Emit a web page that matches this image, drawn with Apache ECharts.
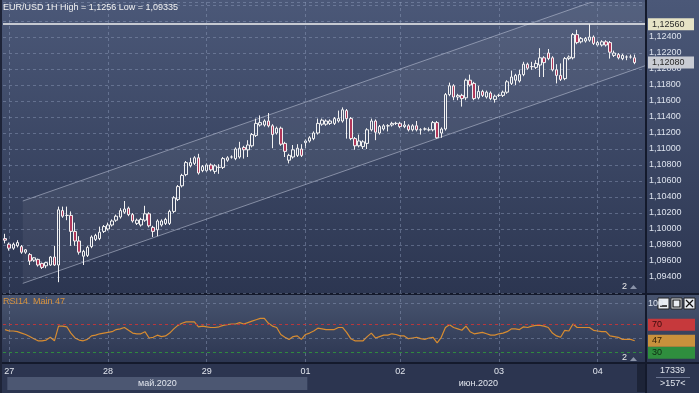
<!DOCTYPE html>
<html><head><meta charset="utf-8">
<script src="https://cdn.jsdelivr.net/npm/echarts/dist/echarts.min.js"></script>
<style>
html,body{margin:0;padding:0;background:#2a3350;overflow:hidden;}
.b{position:absolute;}
#chart{position:absolute;left:0;top:0;width:699px;height:393px;}
</style></head><body>
<div class="b" style="left:0;top:0;width:699px;height:293px;background:linear-gradient(#4b5878,#2c3651)"></div>
<div class="b" style="left:0;top:293px;width:699px;height:2px;background:#141a2c"></div>
<div class="b" style="left:0;top:295px;width:699px;height:67px;background:linear-gradient(#48546f,#2c3651)"></div>
<div class="b" style="left:0;top:362px;width:699px;height:2px;background:#141a2c"></div>
<div class="b" style="left:0;top:364px;width:699px;height:29px;background:#2c3550"></div>
<div class="b" style="left:645px;top:0;width:2px;height:393px;background:#141a2c"></div>
<div class="b" style="left:0;top:0;width:2px;height:393px;background:#1e2438"></div>
<div id="chart"></div>
<script>
// ---- data ----
const opens = [
1.0988,1.0981,1.0976,1.0979,1.0978,1.0971,1.0968,1.0961,1.0962,1.0957,
1.0954,1.0955,1.0965,1.0955,1.1023,1.1017,1.1017,1.0997,1.0985,1.0966,
1.0967,1.0978,1.0987,1.0988,1.0997,1.1000,1.1005,1.1011,1.1015,1.1021,
1.1026,1.1018,1.1007,1.1005,1.1011,1.1019,1.1002,1.0999,1.1005,1.1007,
1.1007,1.1022,1.1037,1.1054,1.1068,1.1079,1.1082,1.1089,1.1073,1.1073,
1.1080,1.1072,1.1077,1.1077,1.1086,1.1090,1.1088,1.1090,1.1102,1.1099,
1.1104,1.1117,1.1130,1.1130,1.1135,1.1129,1.1120,1.1126,1.1107,1.1086,
1.1090,1.1092,1.1100,1.1108,1.1110,1.1113,1.1120,1.1131,1.1131,1.1132,
1.1132,1.1135,1.1135,1.1148,1.1138,1.1113,1.1104,1.1103,1.1107,1.1124,
1.1135,1.1120,1.1125,1.1129,1.1130,1.1132,1.1132,1.1128,1.1129,1.1124,
1.1129,1.1124,1.1125,1.1124,1.1124,1.1133,1.1120,1.1125,1.1168,1.1179,
1.1165,1.1167,1.1164,1.1186,1.1182,1.1164,1.1172,1.1165,1.1170,1.1162,
1.1167,1.1167,1.1171,1.1182,1.1186,1.1185,1.1193,1.1206,1.1203,1.1202,
1.1205,1.1214,1.1220,1.1214,1.1199,1.1192,1.1188,1.1213,1.1214,1.1243,
1.1234,1.1235,1.1236,1.1240,1.1230,1.1230,1.1234,1.1233,1.1217,1.1218,
1.1213,1.1215,1.1215,1.1214];
const closes = [
1.0986,1.0976,1.0981,1.0983,1.0971,1.0974,1.0960,1.0964,1.0955,1.0952,
1.0958,1.0965,1.0955,1.1024,1.1016,1.1017,1.0997,1.0985,1.0971,1.0972,
1.0977,1.0990,1.0992,1.0996,1.1003,1.1005,1.1010,1.1016,1.1023,1.1025,
1.1018,1.1010,1.1011,1.1012,1.1019,1.1004,1.0997,1.1010,1.1010,1.1012,
1.1022,1.1039,1.1053,1.1067,1.1083,1.1083,1.1089,1.1070,1.1078,1.1080,
1.1074,1.1079,1.1077,1.1088,1.1089,1.1090,1.1100,1.1101,1.1099,1.1105,
1.1118,1.1132,1.1133,1.1135,1.1129,1.1118,1.1126,1.1106,1.1097,1.1092,
1.1099,1.1101,1.1092,1.1110,1.1114,1.1120,1.1132,1.1136,1.1135,1.1135,
1.1138,1.1138,1.1149,1.1138,1.1113,1.1104,1.1110,1.1109,1.1124,1.1135,
1.1121,1.1128,1.1129,1.1129,1.1132,1.1132,1.1128,1.1130,1.1124,1.1129,
1.1124,1.1124,1.1125,1.1124,1.1133,1.1114,1.1125,1.1168,1.1179,1.1165,
1.1167,1.1163,1.1186,1.1180,1.1163,1.1172,1.1167,1.1171,1.1163,1.1166,
1.1167,1.1171,1.1184,1.1190,1.1192,1.1193,1.1206,1.1201,1.1203,1.1207,
1.1214,1.1208,1.1213,1.1199,1.1192,1.1187,1.1213,1.1215,1.1243,1.1233,
1.1238,1.1238,1.1240,1.1232,1.1233,1.1234,1.1230,1.1221,1.1220,1.1214,
1.1217,1.1215,1.1215,1.1208];
const lows = [
1.0982,1.0973,1.0974,1.0977,1.0969,1.0969,1.0955,1.0959,1.0953,1.0950,
1.0951,1.0954,1.0954,1.09335,1.1014,1.1011,1.0979,1.0979,1.0968,1.0955,
1.0965,1.0976,1.0985,1.0986,1.0995,1.0998,1.1003,1.1009,1.1013,1.1019,
1.1016,1.1008,1.1005,1.1003,1.1009,1.1002,1.0990,1.0991,1.1003,1.1005,
1.1005,1.1020,1.1035,1.1052,1.1066,1.1077,1.1080,1.1068,1.1071,1.1071,
1.1072,1.1069,1.1069,1.1075,1.1084,1.1088,1.1086,1.1088,1.1088,1.1090,
1.1102,1.1115,1.1128,1.1128,1.1127,1.1101,1.1118,1.1104,1.1090,1.1082,
1.1088,1.1090,1.1090,1.1101,1.1108,1.1111,1.1118,1.1129,1.1129,1.1130,
1.1130,1.1133,1.1133,1.1113,1.1111,1.1099,1.1102,1.1100,1.1100,1.1122,
1.1111,1.1118,1.1123,1.1122,1.1128,1.1130,1.1126,1.1126,1.1122,1.1122,
1.1122,1.1118,1.1123,1.1122,1.1122,1.1113,1.1114,1.1123,1.1166,1.1161,
1.1161,1.1153,1.1161,1.1178,1.1161,1.1162,1.1165,1.1163,1.1161,1.1158,
1.1165,1.1165,1.1169,1.1180,1.1180,1.1183,1.1191,1.1199,1.1199,1.1200,
1.1190,1.1190,1.1211,1.1197,1.1182,1.1185,1.1186,1.1211,1.1212,1.1231,
1.1232,1.1233,1.1234,1.1230,1.1228,1.1228,1.1228,1.1213,1.1215,1.1212,
1.1211,1.1211,1.1213,1.1206];
const highs = [
1.0994,1.0983,1.0983,1.0986,1.0980,1.0975,1.0970,1.0965,1.0963,1.0958,
1.0959,1.0966,1.0979,1.1028,1.1028,1.1028,1.1022,1.1008,1.0991,1.0974,
1.0979,1.0992,1.0994,1.1003,1.1005,1.1008,1.1012,1.1018,1.1026,1.1035,
1.1028,1.1020,1.1013,1.1014,1.1029,1.1021,1.1004,1.1012,1.1012,1.1014,
1.1024,1.1041,1.1055,1.1069,1.1085,1.1089,1.1091,1.1094,1.1080,1.1082,
1.1082,1.1081,1.1081,1.1090,1.1091,1.1092,1.1102,1.1109,1.1104,1.1111,
1.1120,1.1138,1.1142,1.1137,1.1145,1.1131,1.1128,1.1128,1.1109,1.1094,
1.1105,1.1106,1.1106,1.1112,1.1116,1.1122,1.1138,1.1138,1.1137,1.1137,
1.1140,1.1148,1.1152,1.1150,1.1140,1.1115,1.1118,1.1111,1.1126,1.1138,
1.1137,1.1130,1.1131,1.1131,1.1134,1.1134,1.1134,1.1135,1.1131,1.1131,
1.1135,1.1126,1.1127,1.1127,1.1135,1.1135,1.1127,1.1170,1.1183,1.1181,
1.1169,1.1169,1.1188,1.1193,1.1184,1.1179,1.1174,1.1173,1.1172,1.1168,
1.1169,1.1173,1.1186,1.1198,1.1194,1.1199,1.1209,1.1208,1.1209,1.1211,
1.1226,1.1216,1.1225,1.1216,1.1206,1.1207,1.1215,1.1217,1.1245,1.1249,
1.1240,1.1240,1.1256,1.1242,1.1235,1.1236,1.1236,1.1235,1.1223,1.1220,
1.1219,1.1217,1.1218,1.1218];
const rsi = [
63,61,61,60,58,56,53,50,47,47,
48,52,47,68,68,67,58,51,48,47,
49,54,55,57,58,59,60,63,64,66,
62,58,57,57,60,51,52,55,53,54,
58,64,69,72,74,74,74,67,68,67,
66,66,67,69,70,71,71,73,71,73,
75,77,79,79,72,68,66,56,52,49,
53,54,49,56,58,61,65,64,63,63,
63,66,66,59,50,47,47,47,53,58,
51,53,55,55,57,56,54,54,50,51,
52,50,49,51,52,44,52,66,70,66,
64,62,68,60,57,58,59,57,55,55,
57,58,60,64,64,63,67,66,68,69,
69,68,66,58,54,52,62,61,71,66,
66,66,66,62,61,60,60,54,53,52,
49,49,49,47];
const dayIdx = [1,25,49,73,96,120,144];
const dayLabels = ['27','28','29','01','02','03','04'];
const monthIdx = [37,115];
const monthLabels = ['май.2020','июн.2020'];
const channelX = [4.3, 155.5];
const channelLower = [1.0932, 1.1204];
const channelUpper = [1.1035, 1.1307];
const rsiLevels = [100, 70, 50, 30];
const priceTicks = {min:1.092, interval:0.002};
const titleText = 'EUR/USD 1H High = 1,1256 Low = 1,09335';

// ---- build ----
const FONT = 'Liberation Sans, Arial, sans-serif';
const N = opens.length, PAD = 2, M = N + PAD;
const cats = []; for (let i = 0; i < M; i++) cats.push('c' + i);
const candles = opens.map((o, i) => [o, closes[i], lows[i], highs[i]]);
const rsiData = rsi.slice(); while (rsiData.length < M) rsiData.push(null);
const fmt = v => v.toFixed(5).replace('.', ',');
const hi = highs.reduce((a, b) => Math.max(a, b), -Infinity);
const lastClose = closes[N - 1];
const lastRsi = rsi[N - 1];
const dayMap = {}; dayIdx.forEach((d, k) => dayMap[d] = dayLabels[k]);
const monMap = {}; monthIdx.forEach((d, k) => monMap[d] = k);
const gridCol = 'rgba(150,165,195,0.42)';
const NOLINE = 'rgba(0,0,0,0)';

const chart = echarts.init(document.getElementById('chart'), null, {renderer: 'canvas'});
const topPrice = 1.128375, botPrice = priceTicks.min;

function tag(text, bg, fg, w) {
  return {show: true, position: 'end', distance: 3, formatter: text, backgroundColor: bg, color: fg,
    fontSize: 9, fontFamily: FONT, padding: [2, 0, 1, 4], width: w, align: 'left'};
}

const option = {
  animation: false,
  backgroundColor: 'transparent',
  grid: [
    {left: 3, right: 54, top: 2, height: 291, outerBoundsMode: 'none', containLabel: false},
    {left: 3, right: 54, top: 295, height: 67, outerBoundsMode: 'none', containLabel: false}
  ],
  xAxis: [
    {type: 'category', gridIndex: 0, data: cats, boundaryGap: true, show: false},
    {type: 'value', gridIndex: 0, min: -0.5, max: M - 0.5, show: false},
    {type: 'category', gridIndex: 1, data: cats, boundaryGap: true, position: 'bottom',
     axisLine: {show: false}, axisTick: {show: false}, splitLine: {show: false},
     axisLabel: {interval: 0, margin: 5, color: '#e2e6ee', fontSize: 9, fontFamily: FONT,
       formatter: (v, i) => dayMap[i] || ''}},
    {type: 'category', gridIndex: 1, data: cats, boundaryGap: true, position: 'bottom', offset: 15,
     axisLine: {show: false}, axisTick: {show: false}, splitLine: {show: false},
     axisLabel: {interval: 0, margin: 0, fontSize: 9, fontFamily: FONT,
       formatter: (v, i) => monMap[i] === 0 ? '{a|' + monthLabels[0] + '}' : (monMap[i] === 1 ? '{b|' + monthLabels[1] + '}' : ''),
       rich: {
         a: {backgroundColor: '#4c5772', width: 300, height: 13, lineHeight: 13, align: 'center', color: '#e2e6ee', fontSize: 9, fontFamily: FONT},
         b: {height: 13, lineHeight: 13, align: 'center', color: '#e2e6ee', fontSize: 9, fontFamily: FONT}
       }}}
  ],
  yAxis: [
    {type: 'value', gridIndex: 0, position: 'right', min: botPrice, max: topPrice, interval: priceTicks.interval,
     axisLine: {show: false}, axisTick: {show: false},
     splitLine: {show: true, lineStyle: {color: gridCol, type: [3, 3], width: 1}},
     axisLabel: {color: '#dde3ee', fontSize: 9, fontFamily: FONT, margin: 4,
       formatter: v => (v > 1.1255 || v < 1.093) ? '' : fmt(v)}},
    {type: 'value', gridIndex: 1, min: 16.7, max: 112.4, show: false}
  ],
  series: [
    {
      type: 'line', xAxisIndex: 0, yAxisIndex: 0, data: cats.map(() => null), z: 1, symbol: 'none', silent: true,
      markLine: {silent: true, symbol: ['none', 'none'], label: {show: false},
        lineStyle: {color: gridCol, type: [3, 3], width: 1},
        data: dayIdx.map(d => ({xAxis: cats[d]}))}
    },
    {
      type: 'custom', xAxisIndex: 1, yAxisIndex: 0, z: 1, silent: true, clip: true,
      data: [[0]],
      renderItem: (params, api) => {
        const p0 = api.coord([channelX[0], channelLower[0]]);
        const p1 = api.coord([channelX[1], channelLower[1]]);
        const q1 = api.coord([channelX[1], channelUpper[1]]);
        const q0 = api.coord([channelX[0], channelUpper[0]]);
        const cs = params.coordSys;
        const clip = {x: cs.x, y: cs.y, width: cs.width, height: cs.height};
        return {type: 'group', children: [
          {type: 'polygon', shape: {points: [p0, p1, q1, q0]}, style: {fill: 'rgba(255,255,255,0.055)'}, clipPath: {type: 'rect', shape: clip}},
          {type: 'line', shape: {x1: p0[0], y1: p0[1], x2: p1[0], y2: p1[1]}, style: {stroke: 'rgba(205,212,230,0.5)', lineWidth: 1}, clipPath: {type: 'rect', shape: clip}},
          {type: 'line', shape: {x1: q0[0], y1: q0[1], x2: q1[0], y2: q1[1]}, style: {stroke: 'rgba(205,212,230,0.5)', lineWidth: 1}, clipPath: {type: 'rect', shape: clip}}
        ]};
      }
    },
    {
      type: 'candlestick', xAxisIndex: 0, yAxisIndex: 0, z: 3, data: candles, barWidth: 3,
      itemStyle: {color: 'rgba(0,0,0,0)', color0: '#b0375a', borderColor: '#f2f2f2', borderColor0: '#f2f2f2', borderColorDoji: '#f2f2f2', borderWidth: 1}
    },
    {
      type: 'line', xAxisIndex: 0, yAxisIndex: 0, data: cats.map(() => null), z: 4, symbol: 'none', silent: true,
      markLine: {silent: true, symbol: ['none', 'none'], animation: false, precision: 5,
        data: [
          {yAxis: hi, lineStyle: {color: '#f0f0f0', width: 1.5, type: 'solid'}, label: tag(fmt(hi), '#e6e3c6', '#2a2a2a', 42)},
          {yAxis: lastClose, lineStyle: {color: NOLINE, width: 1, type: 'solid'}, label: tag(fmt(lastClose), '#c9ccd4', '#2a2a2a', 42)}
        ]}
    },
    {
      type: 'line', xAxisIndex: 2, yAxisIndex: 1, data: rsiData, symbol: 'none', z: 3,
      lineStyle: {color: '#d88c30', width: 1.2},
      markLine: {silent: true, symbol: ['none', 'none'], animation: false, precision: 2,
        data: [
          ...dayIdx.map(d => ({xAxis: cats[d], lineStyle: {color: gridCol, type: [3, 3], width: 1}, label: {show: false}})),
          {yAxis: rsiLevels[0], lineStyle: {color: gridCol, type: [3, 3], width: 1},
           label: {show: true, position: 'end', distance: 3, formatter: '100', color: '#dde3ee', fontSize: 9, fontFamily: FONT}},
          {yAxis: rsiLevels[1], lineStyle: {color: '#b8373c', type: [3, 3], width: 1}, label: tag(String(rsiLevels[1]), '#c6393c', '#3a0b0b', 43)},
          {yAxis: rsiLevels[2], lineStyle: {color: gridCol, type: [3, 3], width: 1}, label: {show: false}},
          {yAxis: rsiLevels[3], lineStyle: {color: '#2f8a3e', type: [3, 3], width: 1}, label: tag(String(rsiLevels[3]), '#2f8e3e', '#0d2a10', 43)},
          {yAxis: lastRsi, lineStyle: {color: NOLINE, width: 1, type: 'solid'}, label: tag(String(lastRsi), '#c9913c', '#2a1a05', 43)}
        ]}
    }
  ],
  graphic: [
    {type: 'text', left: 3, top: 3, z: 10, style: {text: titleText, fill: '#f2f2f2', font: '9px ' + FONT}},
    {type: 'text', left: 3, top: 297, z: 10, style: {text: 'RSI14  Main ' + lastRsi, fill: '#d8923c', font: '9px ' + FONT}},
    {type: 'text', left: 622, top: 282, z: 10, style: {text: '2', fill: '#e8e8e8', font: '9px ' + FONT}},
    {type: 'polygon', z: 10, shape: {points: [[630, 289], [637, 289], [633.5, 285]]}, style: {fill: '#8a93a8'}},
    {type: 'text', left: 622, top: 353, z: 10, style: {text: '2', fill: '#e8e8e8', font: '9px ' + FONT}},
    {type: 'polygon', z: 10, shape: {points: [[630, 361], [637, 361], [633.5, 357]]}, style: {fill: '#8a93a8'}},
    {type: 'rect', z: 10, shape: {x: 637, y: 364, width: 8, height: 28}, style: {fill: '#1d2438'}},
    {type: 'group', z: 20, children: [
      {type: 'rect', shape: {x: 658, y: 298, width: 11, height: 11}, style: {fill: '#e9ecf2', stroke: '#222', lineWidth: 1}},
      {type: 'line', shape: {x1: 660, y1: 306, x2: 667, y2: 306}, style: {stroke: '#111', lineWidth: 1.5}},
      {type: 'rect', shape: {x: 671, y: 298, width: 11, height: 11}, style: {fill: '#e9ecf2', stroke: '#222', lineWidth: 1}},
      {type: 'rect', shape: {x: 673, y: 300, width: 7, height: 7}, style: {fill: 'none', stroke: '#111', lineWidth: 1.2}},
      {type: 'rect', shape: {x: 684, y: 298, width: 11, height: 11}, style: {fill: '#e9ecf2', stroke: '#222', lineWidth: 1}},
      {type: 'line', shape: {x1: 686, y1: 300, x2: 693, y2: 307}, style: {stroke: '#111', lineWidth: 1.3}},
      {type: 'line', shape: {x1: 693, y1: 300, x2: 686, y2: 307}, style: {stroke: '#111', lineWidth: 1.3}}
    ]},
    {type: 'text', z: 10, left: 660, top: 366, style: {text: '17339', fill: '#e2e6ee', font: '9px ' + FONT}},
    {type: 'line', z: 10, shape: {x1: 656, y1: 377.5, x2: 690, y2: 377.5}, style: {stroke: '#6a7490', lineWidth: 1}},
    {type: 'text', z: 10, left: 660, top: 379, style: {text: '>157<', fill: '#e2e6ee', font: '9px ' + FONT}}
  ]
};
chart.setOption(option);
</script>
</body></html>
